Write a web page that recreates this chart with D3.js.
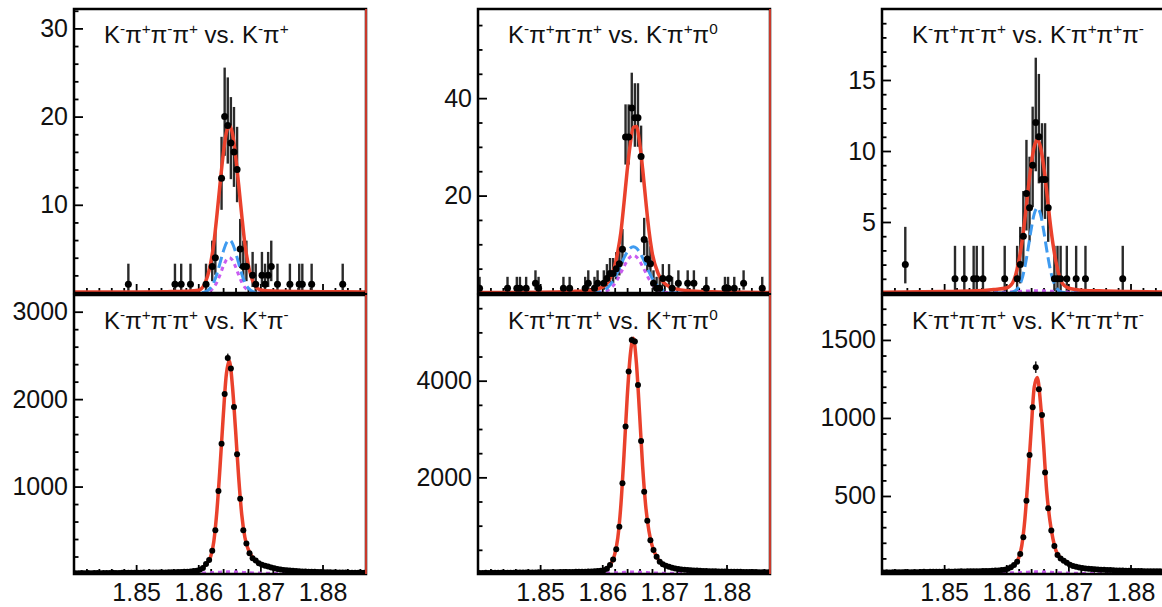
<!DOCTYPE html>
<html>
<head>
<meta charset="utf-8">
<title>D0 mass fits</title>
<script src="https://cdn.jsdelivr.net/npm/d3@7"></script>
<style>
body { margin: 0; background: #fff; }
svg { display: block; background: #fff; }
text { font-family: "Liberation Sans", Arial, Helvetica, sans-serif; fill: #111; }
</style>
</head>
<body>
<svg id="chart" width="1162" height="607"></svg>
<script>
// histogram binning (GeV)
var massMin = 1.84, massMax = 1.887, binWidth = 0.0005;

var titles = [
  "K^-π^+π^-π^+ vs. K^-π^+",
  "K^-π^+π^-π^+ vs. K^-π^+π^0",
  "K^-π^+π^-π^+ vs. K^-π^+π^+π^-",
  "K^-π^+π^-π^+ vs. K^+π^-",
  "K^-π^+π^-π^+ vs. K^+π^-π^0",
  "K^-π^+π^-π^+ vs. K^+π^-π^+π^-"
];
var yMax = [32.2, 58.3, 20, 3191, 5773, 1788];
var yMajor = [[10, 20, 30], [20, 40], [5, 10, 15], [1000, 2000, 3000], [2000, 4000], [500, 1000, 1500]];
var yMinorStep = [2, 5, 1, 200, 500, 100];
var xTickLabels = [1.85, 1.86, 1.87, 1.88];

// top row: only the non-empty bins
var tlBins   = [17, 32, 34, 37, 42, 44, 45, 47, 48, 49, 50, 51, 52, 53, 54, 55, 57, 58, 60, 61, 62, 63, 65, 69, 72, 73, 76, 86];
var tlCounts = [1, 1, 1, 1, 1, 3, 4, 13, 20, 19, 17, 16, 14, 5, 3, 3, 2, 1, 2, 1, 2, 3, 1, 1, 1, 1, 1, 1];

var tmBins   = [0, 9, 12, 13, 15, 18, 19, 27, 29, 34, 35, 37, 38, 40, 41, 42, 43, 44, 45, 46, 47, 48, 49, 50, 51, 52, 53, 54, 55, 56, 57, 58, 59, 61, 62, 64, 67, 69, 73, 79, 80, 82, 85, 91];
var tmCounts = [1, 1, 1, 1, 1, 2, 1, 1, 1, 1, 2, 1, 2, 2, 3, 4, 4, 5, 6, 9, 32, 32, 38, 36, 36, 28, 11, 7, 6, 2, 1, 1, 3, 3, 1, 2, 2, 2, 1, 1, 1, 1, 2, 1];

var trBins   = [7, 23, 26, 29, 30, 32, 39, 43, 44, 45, 46, 47, 48, 49, 50, 51, 52, 53, 55, 56, 57, 59, 62, 65, 77];
var trCounts = [2, 1, 1, 1, 1, 1, 1, 1, 2, 4, 7, 6, 9, 12, 11, 8, 8, 6, 1, 1, 1, 1, 1, 1, 1];

// bottom row: all 94 bins
var blCounts = [10, 9, 11, 10, 12, 10, 11, 12, 10, 11,
  12, 11, 13, 12, 12, 13, 14, 13, 14, 15,
  14, 15, 16, 15, 16, 17, 16, 18, 17, 18,
  19, 20, 21, 22, 24, 25, 27, 29, 33, 38,
  48, 68, 115, 160, 265, 500, 950, 1490, 2060, 2470,
  2350, 1910, 1370, 860, 500, 350, 238, 181, 155, 124,
  105, 95, 86, 75, 66, 58, 52, 47, 43, 40,
  37, 34, 32, 30, 29, 27, 26, 25, 23, 22,
  21, 20, 19, 18, 18, 17, 17, 16, 15, 15,
  14, 14, 13, 13];
var bmCounts = [22, 20, 24, 23, 25, 24, 26, 25, 27, 26,
  28, 27, 29, 30, 29, 31, 32, 31, 33, 34,
  33, 35, 36, 37, 36, 38, 39, 40, 41, 42,
  43, 44, 45, 47, 48, 50, 52, 55, 60, 68,
  80, 110, 184, 300, 510, 980, 1880, 3050, 4190, 4840,
  4810, 3910, 2750, 1700, 1100, 700, 495, 356, 253, 200,
  170, 150, 130, 115, 105, 95, 88, 82, 77, 73,
  70, 67, 64, 61, 59, 57, 55, 53, 51, 50,
  48, 47, 46, 45, 44, 43, 42, 41, 40, 39,
  38, 37, 36, 35];
var brCounts = [10, 11, 10, 12, 11, 12, 11, 13, 12, 12,
  13, 12, 13, 14, 13, 14, 14, 15, 14, 15,
  15, 16, 15, 16, 16, 17, 16, 17, 17, 18,
  18, 18, 19, 19, 20, 21, 22, 23, 25, 28,
  33, 43, 58, 79, 128, 235, 470, 763, 1068, 1325,
  1184, 1019, 650, 421, 278, 179, 122, 100, 85, 72,
  60, 51, 46, 42, 39, 36, 34, 32, 30, 29,
  28, 27, 26, 25, 24, 23, 22, 22, 21, 21,
  20, 20, 19, 19, 18, 18, 18, 17, 17, 17,
  16, 16, 16, 15];

// fit curves, sampled at these masses
var curveMass = [1.840, 1.850, 1.855, 1.858, 1.860, 1.861, 1.862, 1.8625, 1.863, 1.8635, 1.864, 1.8645, 1.865,
  1.8655, 1.866, 1.8665, 1.867, 1.8675, 1.868, 1.869, 1.870, 1.872, 1.875, 1.880, 1.887];

var tlRed  = [0.1, 0.12, 0.15, 0.2, 0.3, 1.0, 3.4, 5.6, 8.8, 12.3, 15.6, 18.1, 19.0, 18.1, 15.6, 12.3, 8.8, 5.6, 3.4, 1.0, 0.35, 0.22, 0.18, 0.15, 0.12];
var tlBlue = [0, 0, 0, 0, 0.01, 0.1, 0.6, 1.22, 2.16, 3.38, 4.65, 5.63, 6.0, 5.63, 4.65, 3.38, 2.16, 1.22, 0.6, 0.1, 0.01, 0, 0, 0, 0];
var tlMag  = [0, 0, 0, 0, 0, 0.04, 0.28, 0.63, 1.22, 2.05, 2.98, 3.72, 4.0, 3.72, 2.98, 2.05, 1.22, 0.63, 0.28, 0.04, 0, 0, 0, 0, 0];

var tmRed  = [0.1, 0.15, 0.3, 0.5, 1.2, 2.4, 5.5, 8.5, 12.5, 18.5, 25, 30.5, 34, 34.2, 31, 25.5, 19, 13, 8.5, 4, 2, 0.8, 0.35, 0.2, 0.1];
var tmBlue = [0, 0, 0, 0.02, 0.42, 1.3, 3.1, 4.4, 5.8, 7.2, 8.4, 9.2, 9.5, 9.2, 8.4, 7.2, 5.8, 4.4, 3.1, 1.3, 0.42, 0.02, 0, 0, 0];
var tmMag  = [0, 0, 0, 0, 0.16, 0.65, 1.9, 2.9, 4.2, 5.4, 6.6, 7.4, 7.7, 7.4, 6.6, 5.4, 4.2, 2.9, 1.9, 0.65, 0.16, 0, 0, 0, 0];

var trRed  = [0.05, 0.1, 0.15, 0.25, 0.35, 0.7, 2.2, 3.5, 5.2, 7.2, 9.0, 10.3, 10.8, 10.3, 9.0, 7.2, 5.2, 3.5, 2.2, 0.7, 0.35, 0.2, 0.15, 0.1, 0.05];
var trBlue = [0, 0, 0, 0, 0, 0.05, 0.42, 0.94, 1.84, 3.08, 4.46, 5.57, 6.0, 5.57, 4.46, 3.08, 1.84, 0.94, 0.42, 0.05, 0, 0, 0, 0, 0];
var trMag  = [0.02, 0.02, 0.03, 0.04, 0.06, 0.08, 0.1, 0.12, 0.13, 0.14, 0.15, 0.15, 0.15, 0.15, 0.15, 0.14, 0.13, 0.12, 0.1, 0.08, 0.06, 0.04, 0.03, 0.02, 0.02];

var blRed = [10, 14, 18, 26, 42, 90, 200, 370, 720, 1220, 1780, 2270, 2440, 2150, 1650, 1110, 680, 420, 290, 168, 115, 70, 38, 22, 13];
var blMag = [2, 4, 6, 8, 10, 12, 15, 17, 19, 21, 23, 24, 25, 24, 23, 21, 19, 17, 15, 12, 10, 7, 5, 3, 2];
var bmRed = [21, 33, 42, 51, 74, 147, 405, 745, 1430, 2465, 3620, 4515, 4880, 4360, 3330, 2225, 1400, 900, 598, 305, 185, 110, 71, 50, 35];
var bmMag = [3, 6, 10, 13, 17, 20, 25, 28, 31, 34, 37, 39, 40, 39, 37, 34, 31, 28, 25, 20, 17, 12, 8, 5, 3];
var brRed = [10, 14.5, 18, 21.5, 30, 50, 103, 182, 352, 616, 915, 1196, 1260, 1100, 835, 535, 350, 228, 150, 92, 66, 40, 29, 21, 15];
var brMag = [1, 2, 3, 4, 6, 8, 9, 10, 11, 12, 13, 13.5, 14, 13.5, 13, 12, 11, 10, 9, 8, 6, 4, 3, 2, 1];

var allBins = d3.range(blCounts.length);
var panels = [
  {bins: tlBins, counts: tlCounts, red: tlRed, blue: tlBlue, mag: tlMag},
  {bins: tmBins, counts: tmCounts, red: tmRed, blue: tmBlue, mag: tmMag},
  {bins: trBins, counts: trCounts, red: trRed, blue: trBlue, mag: trMag},
  {bins: allBins, counts: blCounts, red: blRed, blue: null, mag: blMag},
  {bins: allBins, counts: bmCounts, red: bmRed, blue: null, mag: bmMag},
  {bins: allBins, counts: brCounts, red: brRed, blue: null, mag: brMag}
];

var colLeft = [74, 478, 882], frameW = 292;
var rowTop = [9, 295], rowBottom = [293, 574];

var svg = d3.select("#chart");

function addTitle(sel, str) {
  var parts = str.split(/(\^.)/);
  var raised = false;
  parts.forEach(function (s) {
    if (!s) return;
    if (s[0] === "^") {
      sel.append("tspan").attr("font-size", "64%").attr("dy", raised ? 0 : -9).text(s[1]);
      raised = true;
    } else {
      sel.append("tspan").attr("dy", raised ? 9 : 0).text(s);
      raised = false;
    }
  });
}

// approximate Poisson interval
function errLo(n) { return n - Math.sqrt(Math.max(n - 0.25, 0)); }
function errHi(n) { return n + 1 + Math.sqrt(n + 0.75); }

function styleAxis(g, size) {
  g.select(".domain").remove();
  g.selectAll(".tick line").attr("stroke", "#000").attr("stroke-width", 1.8);
  g.selectAll("text").attr("fill", "#111");
  g.attr("font-size", size).attr("font-family", "'Liberation Sans', Arial, sans-serif");
}

panels.forEach(function (p, i) {
  var col = i % 3, row = Math.floor(i / 3);
  var left = colLeft[col], right = left + frameW;
  var top = rowTop[row], bottom = rowBottom[row];

  var x = d3.scaleLinear().domain([massMin, massMax]).range([left, right]);
  var y = d3.scaleLinear().domain([0, yMax[i]]).range([bottom, top]);

  var g = svg.append("g");
  var clipId = "clip" + i;
  svg.append("clipPath").attr("id", clipId).append("rect")
    .attr("x", left).attr("y", top).attr("width", frameW).attr("height", bottom - top);

  // axes
  var minorY = d3.range(yMinorStep[i], yMax[i], yMinorStep[i]).filter(function (v) {
    return yMajor[i].indexOf(v) < 0;
  });
  g.append("g").attr("transform", "translate(" + left + ",0)")
    .call(d3.axisLeft(y).tickValues(minorY).tickSize(-4.5).tickFormat(""))
    .call(styleAxis, 25);
  g.append("g").attr("transform", "translate(" + left + ",0)")
    .call(d3.axisLeft(y).tickValues(yMajor[i]).tickSize(-9).tickPadding(6).tickFormat(d3.format("d")))
    .call(styleAxis, 25);

  var minorX = d3.range(1.842, massMax, 0.002).filter(function (v) {
    return Math.abs(Math.round(v * 100) - v * 100) > 0.01;
  });
  g.append("g").attr("transform", "translate(0," + bottom + ")")
    .call(d3.axisBottom(x).tickValues(minorX).tickSize(-5).tickFormat(""))
    .call(styleAxis, 25);
  g.append("g").attr("transform", "translate(0," + bottom + ")")
    .call(d3.axisBottom(x).tickValues(xTickLabels).tickSize(-9).tickPadding(9.5)
      .tickFormat(row === 1 ? d3.format(".2f") : function () { return ""; }))
    .call(styleAxis, 25);

  var plot = g.append("g").attr("clip-path", "url(#" + clipId + ")");
  var pts = p.bins.map(function (b, k) {
    return {m: massMin + (b + 0.5) * binWidth, n: p.counts[k]};
  });

  // error bars
  plot.selectAll("line.err").data(pts).enter().append("line")
    .attr("class", "err")
    .attr("x1", function (d) { return x(d.m); })
    .attr("x2", function (d) { return x(d.m); })
    .attr("y1", function (d) { return y(errLo(d.n)); })
    .attr("y2", function (d) { return y(errHi(d.n)); })
    .attr("stroke", "#2a2a2a").attr("stroke-width", row === 0 ? 2.4 : 1.6);

  // fit components
  var line = d3.line()
    .x(function (d) { return x(d[0]); })
    .y(function (d) { return y(d[1]); })
    .curve(d3.curveMonotoneX);
  function curve(vals, color, dash, w) {
    if (!vals) return;
    plot.append("path")
      .attr("d", line(curveMass.map(function (m, k) { return [m, vals[k]]; })))
      .attr("fill", "none").attr("stroke", color).attr("stroke-width", w)
      .attr("stroke-dasharray", dash);
  }
  curve(p.mag, "#c95cf0", "4,4", 3);
  curve(p.blue, "#3f9bf0", "11,5", 3);
  curve(p.red, "#ea412c", null, 3.5);

  // data points
  plot.selectAll("circle").data(pts).enter().append("circle")
    .attr("cx", function (d) { return x(d.m); })
    .attr("cy", function (d) { return y(d.n); })
    .attr("r", row === 0 ? 3.5 : 3.0)
    .attr("fill", "#000");

  // frame
  g.append("rect").attr("x", left).attr("y", top)
    .attr("width", frameW).attr("height", bottom - top)
    .attr("fill", "none").attr("stroke", "#000").attr("stroke-width", 2.5);
  g.append("line").attr("x1", right).attr("x2", right).attr("y1", top).attr("y2", bottom)
    .attr("stroke", "#c8392b").attr("stroke-width", 2);

  var t = g.append("text").attr("x", left + 30).attr("y", top + 34)
    .attr("font-size", 24);
  addTitle(t, titles[i]);
});
</script>
</body>
</html>
